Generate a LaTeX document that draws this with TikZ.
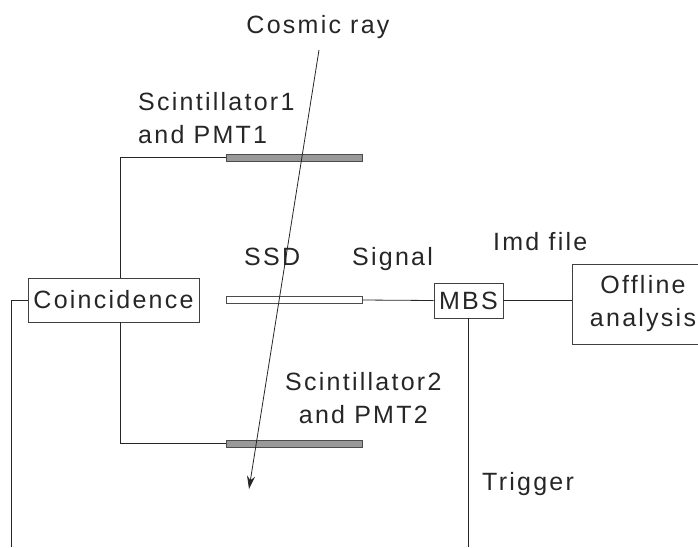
\documentclass[tikz,border=0pt]{standalone}
\usepackage{fontspec}
\setmainfont[LetterSpace=9]{Liberation Sans}
\usetikzlibrary{arrows.meta}
\begin{document}
\begin{tikzpicture}[x=1pt,y=-1pt,
        box/.style = {draw=black!75, line width=0.8pt, inner sep=0pt},
        bar/.style = {draw=black!70, line width=0.8pt, fill=black!40, minimum width=136, minimum height=7, inner sep=0pt},
        lbl/.style = {inner sep=0pt, font=\fontsize{25}{33}\selectfont, text=black!85},
        wire/.style = {draw=black!85, line width=0.8pt}]
        \useasboundingbox (0,0) rectangle (698,547);
        % detectors
        \node[bar] (sc1) at (294,157.5) {};
        \node[bar, fill=white] (ssd) at (294,300) {};
        \node[bar] (sc2) at (294,443.5) {};
        % electronics
        \node[box, lbl, minimum width=171, minimum height=44] (coin) at (113.5,300) {Coincidence};
        \node[box, lbl, minimum width=143, minimum height=80] (off) at (643.5,304) {};
        \node[lbl, align=center] (offtxt) at (643,304) {Offline\\analysis};
        \node[box, lbl, minimum width=69, minimum height=35] (mbs) at (468.5,300.5) {MBS};
        \coordinate (lowleft) at (11,547);
        \coordinate (lowtrig) at (468.5,547);
        \coordinate (raytop) at (319,50);
        \coordinate (rayend) at (249,489);
        % labels
        \node[lbl, anchor=base] (cosmic) at (318,33) {Cosmic ray};
        \node[lbl, anchor=base west, align=left] (lsc1) at (138,143) {Scintillator1\\and PMT1};
        \node[lbl, anchor=base west] (lssd) at (244,265) {SSD};
        \node[lbl, anchor=base west] (lsig) at (352,265) {Signal};
        \node[lbl, anchor=base west] (llmd) at (493,250) {Imd file};
        \node[lbl, anchor=base west, align=center] (lsc2) at (285,423) {Scintillator2\\and PMT2};
        \node[lbl, anchor=base west] (ltrig) at (482,490) {Trigger};
        % connections
        \draw[wire] (sc1.west) -| ([xshift=6.5pt]coin.north);
        \draw[wire] (sc2.west) -| ([xshift=6.5pt]coin.south);
        \draw[wire] (coin.west) -| (lowleft);
        \draw[wire] (ssd.east) -- (mbs.west);
        \draw[wire] (mbs.east) -- (mbs.east -| off.west);
        \draw[wire] (mbs.south) -- (lowtrig);
        \draw[wire, -{Stealth[length=13pt,width=8pt]}] (raytop) -- (rayend);
\end{tikzpicture}
\end{document}
